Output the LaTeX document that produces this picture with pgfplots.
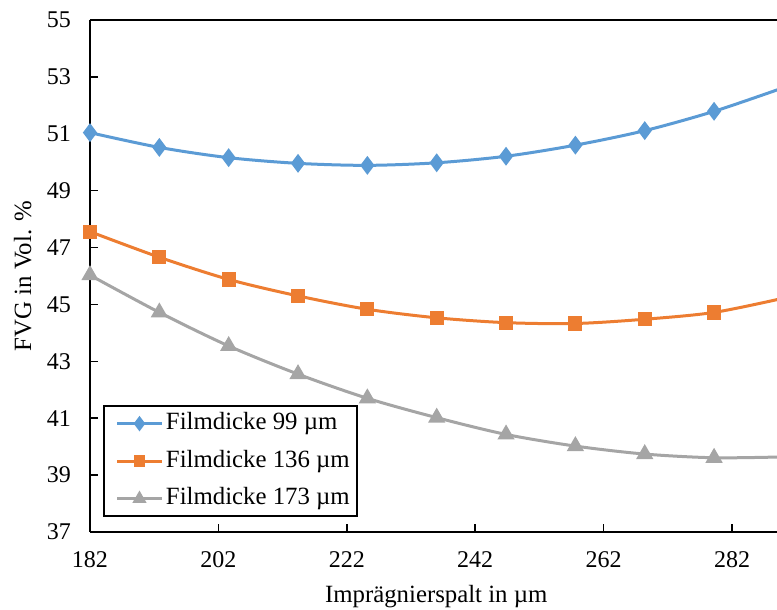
\documentclass[border=0pt]{standalone}
\usepackage{fontspec}
\setmainfont{Liberation Serif}
\usepackage{pgfplots}
\pgfplotsset{compat=1.18}
\definecolor{sBlue}{HTML}{5B9BD5}
\definecolor{sOrange}{HTML}{ED7D31}
\definecolor{sGray}{HTML}{A5A5A5}

\begin{document}
\begin{tikzpicture}
\begin{axis}[
  scale only axis, width=343.5pt, height=256pt,
  xmin=182, xmax=289, ymin=37, ymax=55,
  axis x line=box, axis y line=left,
  axis line style={-, line width=0.8pt, black},
  xtick={182,202,...,282}, ytick={37,39,...,55},
  tick align=inside, xtick pos=left, ytick pos=left,
  major tick length=4pt, tick style={black, line width=0.8pt},
  font=\fontsize{12.4}{14}\selectfont,
  ticklabel style={font=\fontsize{12}{14}\selectfont},
  /pgf/number format/assume math mode=true,
  /pgf/number format/1000 sep={},
  xticklabel style={anchor=base, yshift=-18pt},
  yticklabel style={anchor=east, xshift=-6pt},
  xlabel={Imprägnierspalt in µm},
  ylabel={FVG in Vol. \%},
  x label style={at={(axis description cs:0.504,0)}, anchor=base, yshift=-35.5pt},
  y label style={at={(axis description cs:-0.098,0.5)}, anchor=center, rotate=0},
  legend style={at={(axis description cs:0.0189,0.0293)}, anchor=south west,
    draw=black, line width=1pt, inner xsep=2pt, inner ysep=1.6pt, row sep=4.8pt,
    font=\fontsize{12.4}{14}\selectfont,
    nodes={inner sep=1.5pt, text height=8.5pt, text depth=2.5pt}},
  legend cell align=left,
  legend image code/.code={%
    \path (0pt,0pt) (26pt,0pt);
    \draw[mark repeat=2, mark phase=2, every mark/.append style={scale=0.75}]
      plot coordinates {(4pt,0pt) (15pt,0pt) (26pt,0pt)};},
]
\coordinate (bl) at (rel axis cs:0,0);

\addplot[sBlue, line width=1.5pt, smooth, mark=diamond*, mark size=3.5pt,
  mark options={fill=sBlue, draw=sBlue}] coordinates {
  (182,51.04) (192.8,50.52) (203.6,50.16) (214.4,49.96) (225.2,49.89)
  (236,49.98) (246.8,50.21) (257.6,50.60) (268.4,51.11) (279.2,51.79) (290,52.62)};
\addlegendentry{Filmdicke 99 µm}

\addplot[sOrange, line width=1.5pt, smooth, mark=square*, mark size=2.8pt,
  mark options={fill=sOrange, draw=sOrange}] coordinates {
  (182,47.56) (192.8,46.66) (203.6,45.88) (214.4,45.30) (225.2,44.83)
  (236,44.53) (246.8,44.36) (257.6,44.33) (268.4,44.48) (279.2,44.72) (290,45.22)};
\addlegendentry{Filmdicke 136 µm}

\addplot[sGray, line width=1.5pt, smooth, mark=triangle*, mark size=3.5pt,
  mark options={fill=sGray, draw=sGray}] coordinates {
  (182,46.03) (192.8,44.72) (203.6,43.54) (214.4,42.55) (225.2,41.70)
  (236,41.02) (246.8,40.43) (257.6,40.02) (268.4,39.74) (279.2,39.61) (290,39.64)};
\addlegendentry{Filmdicke 173 µm}
\end{axis}
\pgfresetboundingbox
\path[use as bounding box] (bl) ++(-45pt,-39pt) rectangle ++(388.5pt,305pt);
\end{tikzpicture}
\end{document}
